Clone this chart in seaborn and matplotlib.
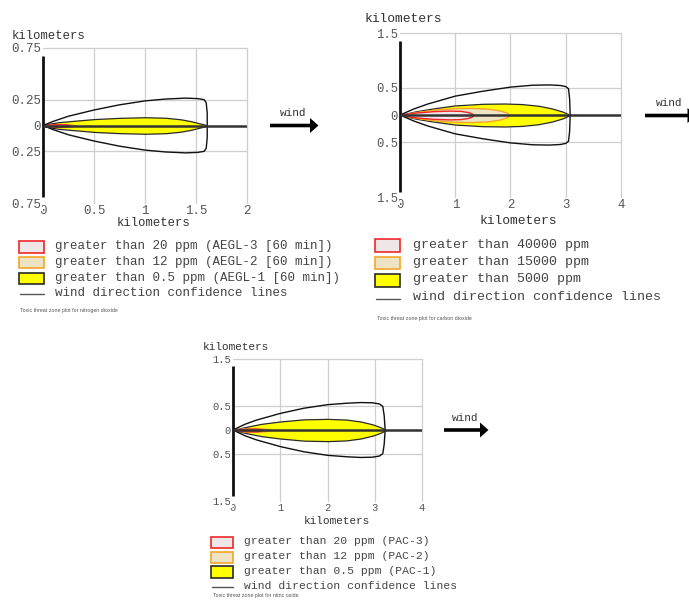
import numpy as np
import pandas as pd
import matplotlib
matplotlib.use("Agg")
import matplotlib.pyplot as plt
import seaborn as sns
from matplotlib.patches import Rectangle, FancyArrow

# ---------------- data (km) ----------------
# Panel 1: nitrogen dioxide
no2_conf_x = [0, 0.1, 0.25, 0.5, 0.75, 1.0, 1.2, 1.4, 1.52, 1.58, 1.60, 1.61, 1.61]
no2_conf_y = [0, 0.04, 0.09, 0.15, 0.2, 0.238, 0.256, 0.265, 0.26, 0.25, 0.22, 0.12, 0]
no2_yel_x = [0, 0.05, 0.15, 0.3, 0.5, 0.75, 1.0, 1.2, 1.35, 1.45, 1.53, 1.58, 1.61]
no2_yel_w = [0, 0.015, 0.032, 0.045, 0.062, 0.074, 0.08, 0.075, 0.06, 0.042, 0.022, 0.01, 0]
no2_org_x = [0, 0.1, 0.2, 0.28, 0.33]
no2_org_w = [0, 0.012, 0.014, 0.01, 0]
no2_red_x = [0, 0.08, 0.17, 0.23, 0.26]
no2_red_w = [0, 0.01, 0.012, 0.008, 0]

# Panel 2: carbon dioxide
co2_conf_x = [0, 0.25, 0.5, 1.0, 1.5, 2.0, 2.4, 2.7, 2.9, 3.0, 3.05, 3.07, 3.08]
co2_conf_y = [0, 0.11, 0.2, 0.345, 0.435, 0.51, 0.545, 0.55, 0.54, 0.52, 0.48, 0.3, 0]
co2_yel_x = [0, 0.1, 0.3, 0.6, 1.0, 1.5, 1.9, 2.2, 2.5, 2.75, 2.95, 3.08]
co2_yel_w = [0, 0.025, 0.07, 0.12, 0.175, 0.205, 0.21, 0.2, 0.17, 0.12, 0.06, 0]
co2_org_x = [0, 0.1, 0.3, 0.6, 1.0, 1.3, 1.6, 1.8, 1.93, 1.98]
co2_org_w = [0, 0.02, 0.055, 0.095, 0.125, 0.13, 0.115, 0.085, 0.045, 0]
co2_red_x = [0, 0.1, 0.3, 0.6, 0.9, 1.1, 1.22, 1.3, 1.32]
co2_red_w = [0, 0.018, 0.045, 0.07, 0.08, 0.075, 0.055, 0.03, 0]

# Panel 3
p3_conf_x = [0, 0.25, 0.5, 1.0, 1.5, 2.0, 2.4, 2.7, 2.95, 3.1, 3.17, 3.2, 3.22]
p3_conf_y = [0, 0.12, 0.21, 0.35, 0.46, 0.535, 0.565, 0.58, 0.575, 0.55, 0.5, 0.3, 0]
p3_yel_x = [0, 0.1, 0.3, 0.6, 1.0, 1.5, 2.0, 2.4, 2.7, 2.95, 3.12, 3.24]
p3_yel_w = [0, 0.025, 0.07, 0.13, 0.18, 0.225, 0.235, 0.22, 0.18, 0.12, 0.06, 0]
p3_org_x = [0, 0.1, 0.3, 0.5, 0.7, 0.82]
p3_org_w = [0, 0.02, 0.035, 0.04, 0.025, 0]
p3_red_x = [0, 0.1, 0.3, 0.5, 0.6, 0.63]
p3_red_w = [0, 0.015, 0.028, 0.028, 0.015, 0]

# tick labels / legend text
p1_xticks = [0, 0.5, 1, 1.5, 2]
p1_xlabels = ["0", "0.5", "1", "1.5", "2"]
p1_yticks = [0.75, 0.25, 0, -0.25, -0.75]
p1_ylabels = ["0.75", "0.25", "0", "0.25", "0.75"]
p23_xticks = [0, 1, 2, 3, 4]
p23_xlabels = ["0", "1", "2", "3", "4"]
p23_yticks = [1.5, 0.5, 0, -0.5, -1.5]
p23_ylabels = ["1.5", "0.5", "0", "0.5", "1.5"]

leg1 = ["greater than 20 ppm (AEGL-3 [60 min])",
        "greater than 12 ppm (AEGL-2 [60 min])",
        "greater than 0.5 ppm (AEGL-1 [60 min])",
        "wind direction confidence lines"]
leg2 = ["greater than 40000 ppm", "greater than 15000 ppm",
        "greater than 5000 ppm", "wind direction confidence lines"]
leg3 = ["greater than 20 ppm (PAC-3)", "greater than 12 ppm (PAC-2)",
        "greater than 0.5 ppm (PAC-1)", "wind direction confidence lines"]
cap1 = "Toxic threat zone plot for nitrogen dioxide"
cap2 = "Toxic threat zone plot for carbon dioxide"
cap3 = "Toxic threat zone plot for nitric oxide"

# ---------------- style ----------------
sns.set_style("white")
plt.rcParams['font.family'] = ['Liberation Mono', 'DejaVu Sans Mono']

YEL, YEL_E = "#ffff00", "#2a2a2a"
BEI, BEI_E = "#eee3c3", "#f5a52a"
PNK, PNK_E = "#efe7e7", "#f02828"
GRID = "#cfcfcf"
TXT = "#444444"

W, H = 689, 600
fig = plt.figure(figsize=(6.89, 6.0), dpi=100)


def box(l, t, r, b):
    return [l / W, 1 - b / H, (r - l) / W, (b - t) / H]


def panel(rect, xmax, ymax, xt, xl, yt, yl, gx, gy, axrange, fs,
          conf, zones):
    ax = fig.add_axes(box(*rect))
    ax.set_xlim(0, xmax)
    ax.set_ylim(-ymax, ymax)
    for s in ax.spines.values():
        s.set_visible(False)
    for v in gx:
        ax.plot([v, v], [-ymax, ymax], color=GRID, lw=0.9, zorder=0.5, clip_on=False)
    for v in gy:
        ax.plot([0, xmax], [v, v], color=GRID, lw=0.9, zorder=0.5, clip_on=False)
    # zones
    for (zx, zw, fc, ec, lw) in zones:
        zx = np.array(zx); zw = np.array(zw)
        ax.fill_between(zx, -zw, zw, facecolor=fc, edgecolor=ec, lw=lw, zorder=1)
    # confidence lines
    cx, cy = conf
    df = pd.DataFrame({"x": list(cx) + list(cx[::-1]),
                       "y": list(cy) + [-v for v in cy[::-1]]})
    sns.lineplot(data=df, x="x", y="y", sort=False, estimator=None,
                 color="#111111", lw=1.0, ax=ax, zorder=2)
    # centreline
    ax.plot([0, xmax], [0, 0], color="#333333", lw=1.8, zorder=2.2, solid_capstyle="butt")
    # left black axis line
    ax.plot([0, 0], axrange, color="#111111", lw=2.0, zorder=2, clip_on=False,
            solid_capstyle="butt")
    ax.set_xticks(xt)
    ax.set_xticklabels(xl)
    ax.set_yticks(yt)
    ax.set_yticklabels(yl)
    ax.tick_params(length=0, labelsize=fs, colors="#555555", pad=1.5)
    for lbl in ax.get_yticklabels():
        lbl.set_bbox(dict(facecolor="white", edgecolor="none", pad=0.5))
    ax.set_xlabel("")
    ax.set_ylabel("")
    ax.yaxis.set_zorder(3)
    return ax


panel((43, 48, 247, 203), 2, 0.75, p1_xticks, p1_xlabels, p1_yticks, p1_ylabels,
      [0.5, 1, 1.5, 2], [0.75, 0.25, -0.25], (-0.69, 0.67), 9,
      (no2_conf_x, no2_conf_y),
      [(no2_yel_x, no2_yel_w, YEL, YEL_E, 0.9),
       (no2_org_x, no2_org_w, BEI, BEI_E, 1.0),
       (no2_red_x, no2_red_w, PNK, PNK_E, 1.2)])

panel((400, 33, 621, 197), 4, 1.5, p23_xticks, p23_xlabels, p23_yticks, p23_ylabels,
      [1, 2, 3, 4], [1.5, 0.5, -0.5], (-1.4, 1.35), 8.8,
      (co2_conf_x, co2_conf_y),
      [(co2_yel_x, co2_yel_w, YEL, YEL_E, 0.9),
       (co2_org_x, co2_org_w, BEI, BEI_E, 1.0),
       (co2_red_x, co2_red_w, PNK, PNK_E, 1.0)])

panel((233, 359, 422, 501), 4, 1.5, p23_xticks, p23_xlabels, p23_yticks, p23_ylabels,
      [1, 2, 3, 4], [1.5, 0.5, -0.5], (-1.4, 1.35), 7.6,
      (p3_conf_x, p3_conf_y),
      [(p3_yel_x, p3_yel_w, YEL, YEL_E, 0.9),
       (p3_org_x, p3_org_w, BEI, BEI_E, 1.0),
       (p3_red_x, p3_red_w, PNK, PNK_E, 1.0)])

# ---------------- overlay (pixel coords) ----------------
ov = fig.add_axes([0, 0, 1, 1], zorder=10)
ov.set_xlim(0, W)
ov.set_ylim(H, 0)
ov.axis("off")
ov.patch.set_alpha(0)

# axis titles
for (x, y, fs) in [(11.5, 36, 8.8), (365, 19.3, 9.4), (202.5, 347.3, 8.0)]:
    ov.text(x, y, "kilometers", ha="left", va="center", fontsize=fs, color="#333333")
for (x, y, fs) in [(153, 223.5, 8.8), (518, 220.5, 9.4), (336.5, 521, 8.0)]:
    ov.text(x, y, "kilometers", ha="center", va="center", fontsize=fs, color="#333333")


def legend(x0, bw, rows_box, text_x, text_rows, line_y, labels, fs, cap, cap_y):
    styles = [(PNK, PNK_E), (BEI, BEI_E), (YEL, YEL_E)]
    for (top, bot), (fc, ec) in zip(rows_box, styles):
        ov.add_patch(Rectangle((x0, top), bw, bot - top, facecolor=fc,
                               edgecolor=ec, lw=1.2))
    ov.plot([x0 + 1, x0 + bw], [line_y, line_y], color="#555555", lw=1.0)
    for ty, lab in zip(text_rows, labels):
        ov.text(text_x, ty, lab, ha="left", va="center", fontsize=fs, color=TXT)
    ov.text(x0 + 2, cap_y, cap, ha="left", va="center", fontsize=3.8,
            color="#555555", family=["Liberation Sans", "DejaVu Sans"])


legend(18.5, 25, [(241, 252.7), (256.7, 268.3), (272.7, 284.3)], 55,
       [245.7, 262.3, 278.3, 293.3], 293.5, leg1, 9.0, cap1, 310.5)
legend(375, 25, [(239.3, 251.7), (256.7, 269), (274, 286.7)], 413,
       [245, 262.3, 279.3, 296.7], 299.3, leg2, 9.6, cap2, 318.3)
legend(210.7, 22, [(536.7, 548.3), (551.7, 562.7), (566, 577.7)], 243.5,
       [540.7, 556, 571, 586], 586.7, leg3, 8.2, cap3, 596)

# wind arrows
for (x0, x1, y, tx, ty) in [(270, 318.5, 125.5, 293.3, 113.3),
                            (645, 696, 115.5, 669.3, 102.7),
                            (444, 488.5, 430, 465, 418.3)]:
    ov.add_patch(FancyArrow(x0, y, x1 - x0, 0, width=3.6, head_width=15,
                            head_length=8.5, length_includes_head=True,
                            color="black", lw=0))
    ov.text(tx, ty, "wind", ha="center", va="center", fontsize=8, color="#333333")

fig.savefig("out.png", dpi=100, facecolor="white")
